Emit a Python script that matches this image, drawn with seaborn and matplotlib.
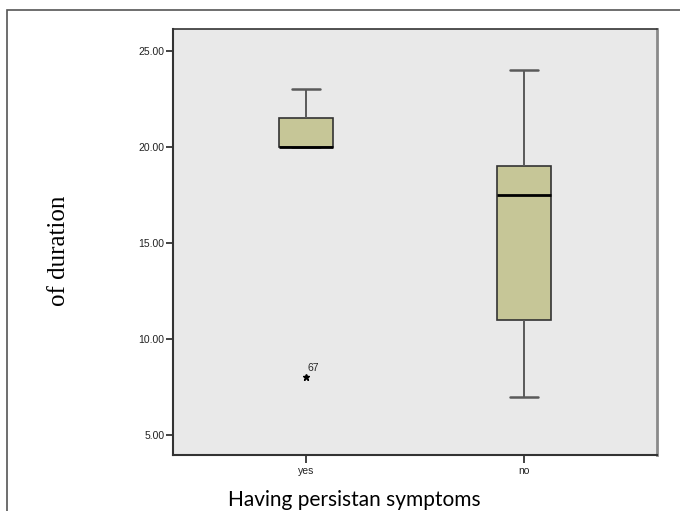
import matplotlib
matplotlib.use("Agg")
import matplotlib.pyplot as plt
import seaborn as sns
import pandas as pd
from matplotlib.patches import Rectangle

# Observations (constructed so that the box statistics match the picture)
yes_values = [8, 20, 20, 20, 20, 20, 21.5, 21.5, 22, 23]
no_values = [7, 11, 17.5, 19, 24]
categories = ["yes", "no"]
outlier_case = "67"
outlier_value = 8
y_ticks = [5, 10, 15, 20, 25]

df = pd.DataFrame({
    "group": ["yes"] * len(yes_values) + ["no"] * len(no_values),
    "value": yes_values + no_values,
})

sns.set_theme(style="ticks")
fig = plt.figure(figsize=(6.8, 5.11), dpi=100)
ax = fig.add_axes([0.2544, 0.1096, 0.712, 0.8336])
ax.set_facecolor("#e9e9e9")

sns.boxplot(
    data=df, x="group", y="value", order=categories, ax=ax,
    color="#c6c697", saturation=1, width=0.25, linewidth=1.2,
    linecolor="#333333", whis=1.5,
    whiskerprops=dict(color="#5a5a5a", linewidth=1.4),
    capprops=dict(color="#5a5a5a", linewidth=1.8),
    medianprops=dict(color="black", linewidth=2),
    boxprops=dict(edgecolor="#333333", linewidth=1.2),
    flierprops=dict(marker="*", markersize=5, markerfacecolor="black",
                    markeredgecolor="black"),
)

ax.annotate(outlier_case, xy=(categories.index("yes"), outlier_value),
            xytext=(1, 3), textcoords="offset points", fontsize=7.5,
            family="Liberation Sans", ha="left", va="bottom")

ax.set_xlim(-0.61, 1.61)
ax.set_ylim(3.96, 26.13)
ax.set_yticks(y_ticks)
ax.set_yticklabels([f"{v:.2f}" for v in y_ticks])
ax.tick_params(axis="y", length=5, width=1.2, labelsize=7.5, pad=1,
               colors="#222222", direction="out")
ax.tick_params(axis="x", length=6, width=1.2, labelsize=7.5, pad=2,
               colors="#222222", direction="out")
for lab in ax.get_xticklabels() + ax.get_yticklabels():
    lab.set_family("Liberation Sans")
    lab.set_color("#222222")

for side in ["left", "bottom"]:
    ax.spines[side].set_color("#333333")
    ax.spines[side].set_linewidth(1.5)
ax.spines["top"].set_color("#333333")
ax.spines["top"].set_linewidth(1.2)
ax.spines["right"].set_color("#8a8a8a")
ax.spines["right"].set_linewidth(2)

ax.set_xlabel("")
ax.set_ylabel("")
fig.text(0.5206, 0.0104, "Having persistan symptoms", ha="center",
         va="baseline", fontsize=15, family="Lato", color="black")
fig.text(0.087, 0.51, "of duration", ha="center", va="center",
         rotation=90, fontsize=18, family="Liberation Serif", color="black")

# outer frame
fig.patches.append(Rectangle((7 / 680, -0.1), 2.0, 1 - 10 / 511 + 0.1,
                             transform=fig.transFigure, fill=False,
                             edgecolor="#555555", linewidth=1.2))

fig.savefig("out.png", dpi=100)
